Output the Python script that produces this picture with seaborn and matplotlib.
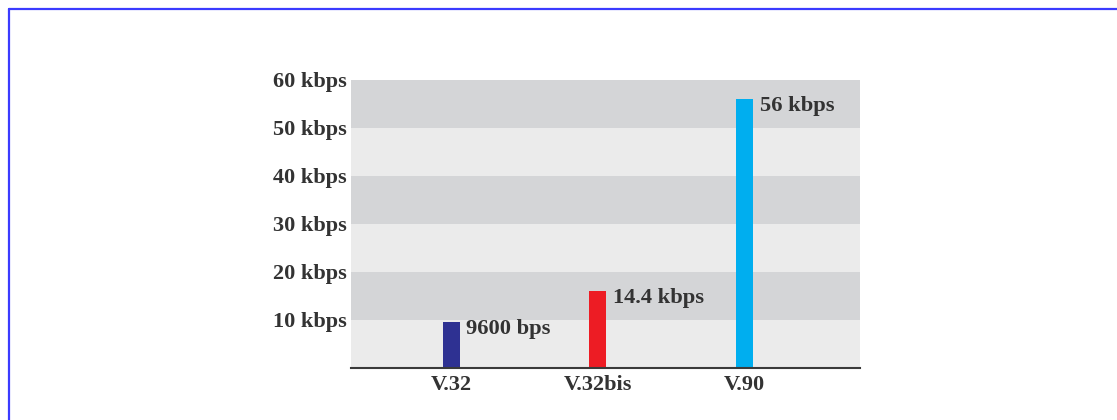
import matplotlib
matplotlib.use("Agg")
import matplotlib.pyplot as plt
from matplotlib.lines import Line2D
import seaborn as sns
import pandas as pd

# ---- data ----
categories = ["V.32", "V.32bis", "V.90"]
speeds_kbps = [9.6, 16.0, 56.0]
bar_labels = ["9600 bps", "14.4 kbps", "56 kbps"]
bar_colors = ["#2e3192", "#ed1c24", "#00aeef"]
tick_values = [10, 20, 30, 40, 50, 60]
tick_labels = ["10 kbps", "20 kbps", "30 kbps", "40 kbps", "50 kbps", "60 kbps"]

df = pd.DataFrame({"modem": categories, "speed": speeds_kbps})

sns.set_style("white")
plt.rcParams["font.family"] = ["Liberation Serif", "DejaVu Serif"]

W, H = 1117, 420
fig = plt.figure(figsize=(W / 100, H / 100), dpi=100)
ax = fig.add_axes([351 / W, 1 - 368 / H, (860 - 351) / W, (368 - 80) / H])

# background bands
band_dark = "#d4d5d7"
band_light = "#ebebeb"
for i, lo in enumerate(range(0, 60, 10)):
    ax.axhspan(lo, lo + 10, color=band_light if i % 2 == 0 else band_dark, zorder=0, lw=0)

sns.barplot(data=df, x="modem", y="speed", hue="modem", palette=bar_colors,
            width=0.115, legend=False, ax=ax, zorder=3, saturation=1,
            linewidth=0, edgecolor="none")

for i, (v, lab) in enumerate(zip(speeds_kbps, bar_labels)):
    ax.annotate(lab, xy=(i + 0.0575, v), xytext=(5, -5), textcoords="offset points",
                ha="left", va="center", fontsize=16.2, fontweight="bold", color="#333333")

ax.set_xlim(-0.683, 2.79)
ax.set_ylim(0, 60)
ax.set_yticks(tick_values)
ax.set_yticklabels(tick_labels)
ax.set_xlabel("")
ax.set_ylabel("")
ax.tick_params(axis="both", length=0, labelsize=16, labelcolor="#333333")
ax.tick_params(axis="y", pad=3)
ax.tick_params(axis="x", pad=5)
for t in ax.get_xticklabels() + ax.get_yticklabels():
    t.set_fontweight("bold")

for s in ["top", "right", "left"]:
    ax.spines[s].set_visible(False)
ax.spines["bottom"].set_color("#3a3a3a")
ax.spines["bottom"].set_linewidth(1.5)
ax.spines["bottom"].set_zorder(5)

# blue frame
fig.add_artist(Line2D([9 / W, 1.0], [1 - 8.5 / H, 1 - 8.5 / H], color="#3b3bff", lw=1.6))
fig.add_artist(Line2D([9 / W, 9 / W], [0, 1 - 8.5 / H], color="#3b3bff", lw=1.6))

fig.savefig("out.png", dpi=100)
